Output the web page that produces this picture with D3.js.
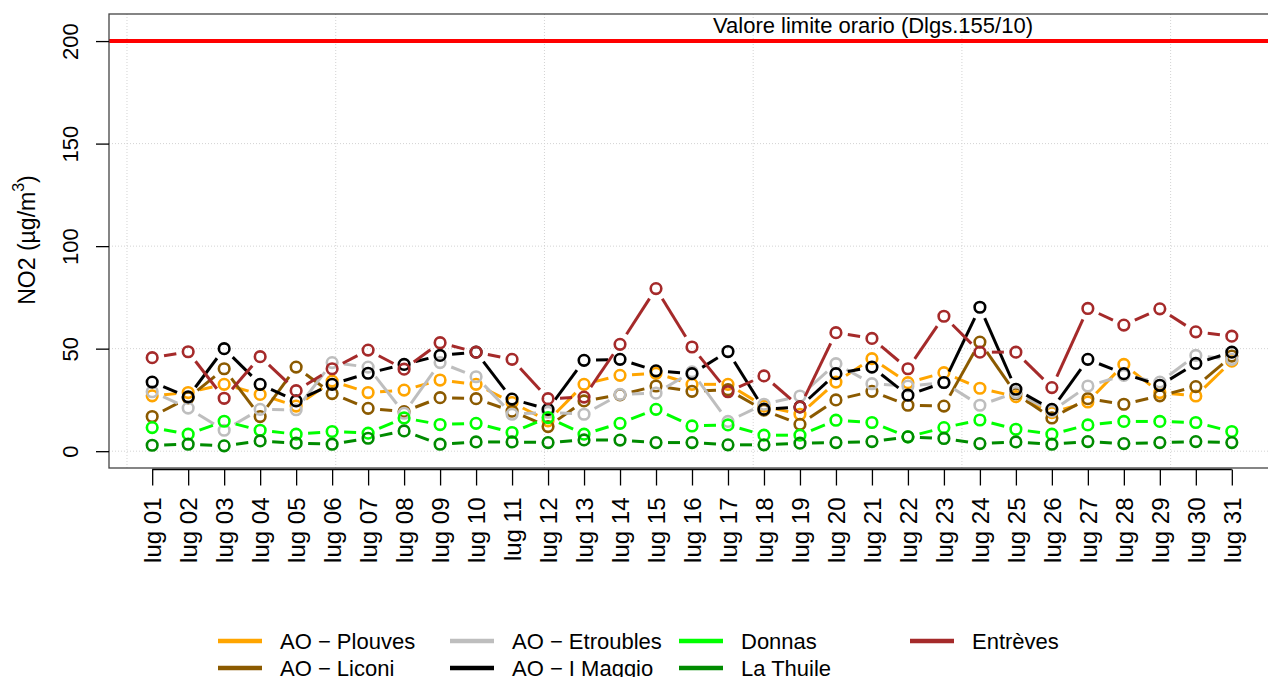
<!DOCTYPE html>
<html>
<head>
<meta charset="utf-8">
<script src="https://cdn.jsdelivr.net/npm/d3@7"></script>
<style>
  body { margin: 0; background: #fff; }
  svg { display: block; font-family: "Liberation Sans", Arial, sans-serif; }
</style>
</head>
<body>
<svg id="chart" width="1268" height="677"></svg>
<script>
'use strict';

// days of July
var days = d3.range(1, 32);
var dayLabels = days.map(function (d) { return 'lug ' + (d < 10 ? '0' + d : d); });

var plouves   = [27, 28.6, 32.6, 27.7, 22, 34.2, 28.6, 29.8, 34.7, 32.6, 23.7, 14.8, 32.6, 37, 38, 32.6, 32.6, 22, 18, 33.7, 45.1, 33.4, 38.3, 30.7, 26.6, 18.8, 24, 42.3, 28.6, 26.9, 43.9];
var liconi    = [16.9, 26, 40.2, 16.9, 41, 28.1, 20.9, 19.3, 26.1, 25.6, 19.5, 12, 24.5, 27.5, 31.8, 29.2, 30, 20, 13.1, 25, 29.2, 22.4, 22, 53.2, 28, 16.2, 25.6, 22.9, 27, 31.5, 46.4];
var etroubles = [29, 21, 10.2, 20.4, 20.2, 43.2, 41, 18.5, 43.2, 36.3, 18, 19, 18, 27.7, 28.3, 38.7, 14.5, 22.9, 26.9, 42.7, 32.9, 31.8, 33.4, 22.4, 28.6, 19.5, 31.8, 37, 33.7, 46.7, 44.8];
var maggio    = [33.7, 26.5, 50, 32.6, 24.5, 32.6, 38, 42.3, 46.7, 48.3, 25.4, 20.4, 44.3, 44.8, 39.2, 37.8, 48.6, 20.5, 21.6, 37.8, 41, 27.3, 33.5, 70.2, 30.2, 20.4, 44.8, 37.8, 32.1, 42.8, 48.3];
var donnas    = [11.5, 8.3, 14.6, 10.2, 8.3, 9.6, 8.8, 16.2, 13, 13.6, 9.1, 16.4, 8.3, 13.6, 20.4, 12.3, 12.8, 7.8, 7.8, 15.1, 14, 7, 11.5, 15.2, 10.7, 8.3, 12.8, 14.5, 14.5, 14, 9.6];
var laThuile  = [2.9, 3.4, 2.6, 5, 3.9, 3.4, 6.3, 9.9, 3.4, 4.5, 4.5, 4.2, 5.5, 5.4, 4.2, 4.2, 3.1, 3.1, 3.9, 4.2, 4.7, 7, 6.2, 3.7, 4.5, 3.4, 4.7, 3.7, 4.2, 4.7, 4.2];
var entreves  = [45.6, 48.5, 25.8, 46.1, 29.5, 40.2, 49.3, 40, 52.9, 48.3, 44.8, 25.6, 26.4, 52.1, 79.3, 50.8, 29, 36.7, 21.6, 57.8, 55, 40.2, 65.8, 48.3, 48.3, 31, 69.6, 61.5, 69.4, 58.2, 56.1];

var seriesNames  = ['AO \u2212 Plouves', 'AO \u2212 Liconi', 'AO \u2212 Etroubles', 'AO \u2212 I Maggio', 'Donnas', 'La Thuile', 'Entr\u00e8ves'];
var seriesValues = [plouves, liconi, etroubles, maggio, donnas, laThuile, entreves];
var seriesColors = ['#FFA500', '#8B5A00', '#BEBEBE', '#000000', '#00FF00', '#008B00', '#A52A2A'];

var yTicks = [0, 50, 100, 150, 200];
var gridDays = [0.3, 6.1, 11.9, 17.7, 23.5, 29.3];
var limitValue = 200;
var limitLabel = 'Valore limite orario (Dlgs.155/10)';

var svg = d3.select('#chart');

var x = d3.scaleLinear().domain([1 - 1.2, 31 + 1.2]).range([109, 1275]);
var y = d3.scaleLinear().domain([-8.2, 213.2]).range([468, 14]);

// grid
var grid = svg.append('g').attr('stroke', '#D3D3D3').attr('stroke-width', 1).attr('stroke-dasharray', '1,2');
grid.selectAll('line.h').data(yTicks).enter().append('line')
  .attr('x1', x.range()[0]).attr('x2', x.range()[1])
  .attr('y1', function (d) { return y(d); }).attr('y2', function (d) { return y(d); });
grid.selectAll('line.v').data(gridDays).enter().append('line')
  .attr('y1', y.range()[0]).attr('y2', y.range()[1])
  .attr('x1', function (d) { return x(d); }).attr('x2', function (d) { return x(d); });

// limit line
svg.append('line')
  .attr('x1', x.range()[0]).attr('x2', x.range()[1])
  .attr('y1', y(limitValue)).attr('y2', y(limitValue))
  .attr('stroke', '#FF0000').attr('stroke-width', 4);
svg.append('text')
  .attr('x', 873).attr('y', 33)
  .attr('text-anchor', 'middle')
  .attr('font-size', 22)
  .attr('fill', '#000')
  .text(limitLabel);

// series, R type="b": segments stop short of the points
var gap = 12;
seriesValues.forEach(function (vals, s) {
  var g = svg.append('g');
  var pts = vals.map(function (v, i) { return [x(days[i]), y(v)]; });
  for (var i = 0; i < pts.length - 1; i++) {
    var dx = pts[i + 1][0] - pts[i][0], dy = pts[i + 1][1] - pts[i][1];
    var len = Math.sqrt(dx * dx + dy * dy);
    if (len <= 2 * gap) continue;
    var ux = dx / len, uy = dy / len;
    g.append('line')
      .attr('x1', pts[i][0] + ux * gap).attr('y1', pts[i][1] + uy * gap)
      .attr('x2', pts[i + 1][0] - ux * gap).attr('y2', pts[i + 1][1] - uy * gap)
      .attr('stroke', seriesColors[s]).attr('stroke-width', 3);
  }
  g.selectAll('circle').data(pts).enter().append('circle')
    .attr('cx', function (p) { return p[0]; })
    .attr('cy', function (p) { return p[1]; })
    .attr('r', 5.3)
    .attr('fill', 'none')
    .attr('stroke', seriesColors[s])
    .attr('stroke-width', 2.6);
});

// box
svg.append('rect')
  .attr('x', x.range()[0]).attr('y', y.range()[1])
  .attr('width', x.range()[1] - x.range()[0]).attr('height', y.range()[0] - y.range()[1])
  .attr('fill', 'none').attr('stroke', '#444').attr('stroke-width', 1.3);

// y axis
var yAxis = svg.append('g')
  .attr('transform', 'translate(' + x.range()[0] + ',0)')
  .call(d3.axisLeft(y).tickValues(yTicks).tickSize(13).tickFormat(d3.format('d')));
yAxis.select('.domain').remove();
yAxis.selectAll('line').attr('stroke', '#000').attr('stroke-width', 1.3);
yAxis.selectAll('text')
  .attr('font-size', 22)
  .attr('fill', '#000')
  .attr('font-family', '"Liberation Sans", Arial, sans-serif')
  .attr('text-anchor', 'middle')
  .attr('dy', null)
  .attr('x', null)
  .attr('transform', 'translate(-39,0) rotate(-90)')
  .attr('dominant-baseline', 'central');

// x axis
var xAxis = svg.append('g')
  .attr('transform', 'translate(0,' + (y.range()[0] + 1.5) + ')')
  .call(d3.axisBottom(x).tickValues(days).tickSize(16).tickFormat(function (d, i) { return dayLabels[i]; }));
xAxis.select('.domain').attr('d', 'M' + x(1) + ',0H' + x(31)).attr('stroke', '#000').attr('stroke-width', 1.3);
xAxis.selectAll('line').attr('stroke', '#000').attr('stroke-width', 1.3);
xAxis.selectAll('text')
  .attr('font-size', 24)
  .attr('fill', '#000')
  .attr('font-family', '"Liberation Sans", Arial, sans-serif')
  .attr('text-anchor', 'end')
  .attr('y', null).attr('dy', null)
  .attr('dominant-baseline', 'central')
  .attr('transform', 'translate(0,28) rotate(-90)');

// y label
var ylab = svg.append('text')
  .attr('transform', 'translate(27,240) rotate(-90)')
  .attr('text-anchor', 'middle')
  .attr('dominant-baseline', 'central')
  .attr('font-size', 23)
  .attr('fill', '#000');
ylab.append('tspan').text('NO2 (\u00b5g/m');
ylab.append('tspan').attr('font-size', 16).attr('dy', -9).text('3');
ylab.append('tspan').attr('dy', 9).text(')');

// legend, column-major, two rows
var legendX = [218, 450, 679, 910];
var legendY = [641, 668];
seriesNames.forEach(function (name, i) {
  var col = Math.floor(i / 2), row = i % 2;
  var lg = svg.append('g').attr('transform', 'translate(' + legendX[col] + ',' + legendY[row] + ')');
  lg.append('line').attr('x1', 0).attr('x2', 44).attr('y1', 0).attr('y2', 0)
    .attr('stroke', seriesColors[i]).attr('stroke-width', 4.5);
  lg.append('text').attr('x', 62).attr('y', 0)
    .attr('dominant-baseline', 'central')
    .attr('font-size', 22)
    .attr('fill', '#000')
    .text(name);
});
</script>
</body>
</html>
